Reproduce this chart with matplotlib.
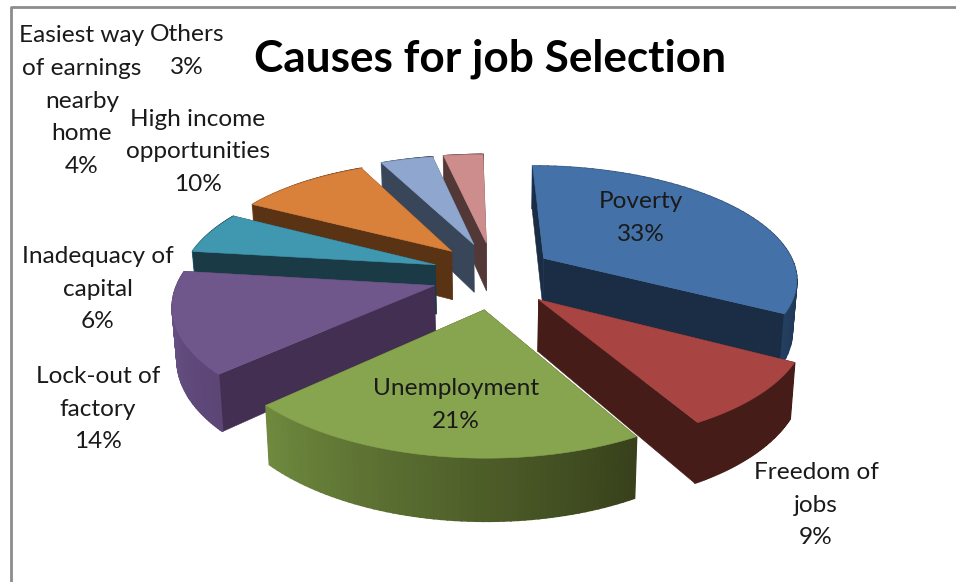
import matplotlib
matplotlib.use("Agg")

import matplotlib.pyplot as plt
import numpy as np
from matplotlib.patches import Polygon

plt.rcParams["font.family"] = ["Lato", "DejaVu Sans"]

categories = [
    "Poverty",
    "Freedom of\njobs",
    "Unemployment",
    "Lock-out of\nfactory",
    "Inadequacy of\ncapital",
    "High income\nopportunities",
    "Easiest way\nof earnings\nnearby\nhome",
    "Others",
]
values = [33, 9, 21, 14, 6, 10, 4, 3]

top_colors = ["#4371a8", "#a84442", "#87a44e", "#6f578c", "#4098b0", "#d9813b", "#8fa7cf", "#cd8d8d"]
side_colors = ["#1a2d45", "#451c18", "#3a431c", "#432f52", "#1a3a46", "#5a3315", "#39465a", "#533838"]
rim_left = ["#33577f", "#451c18", "#708b3f", "#6a5288", "#2f7488", "#a8622c", "#6c80a0", "#9c6b6b"]
rim_right = ["#1f3654", "#451c18", "#38411b", "#5c4676", "#1a3a46", "#5a3315", "#39465a", "#533838"]

label_xy = [
    (641, 218), (816, 505), (456, 405), (98, 409),
    (98, 289), (198, 152), (82, 101), (187, 51),
]

# back slices first so the nearer ones overlap them
draw_order = [7, 6, 5, 4, 3, 0, 1, 2]

# projection of the pie plane onto the canvas
CX, CY = 493, 275
SCALE_X, SCALE_Y = 254, 112
PERSP = 0.16
SHEAR = 4
EXPLODE_X, EXPLODE_Y = 0.24, 0.30
DEPTH = 50


def project(x, y, drop=0.0):
    w = 1 - PERSP * y
    sx = CX + SCALE_X * x / w
    sy = CY + SCALE_Y * y / w
    if drop:
        sx = CX + (sx - CX) * 0.985
        sy = sy + drop / w
    return sx + SHEAR * y, sy


def slice_outline(theta0, theta1, mid, n=60):
    # angles run clockwise from twelve o'clock, y points towards the viewer
    ox = EXPLODE_X * np.sin(mid)
    oy = -EXPLODE_Y * np.cos(mid)
    t = np.linspace(theta0, theta1, n)
    return ox, oy, ox + np.sin(t), oy - np.cos(t)


def mix(c0, c1, f):
    a = np.array(matplotlib.colors.to_rgb(c0))
    b = np.array(matplotlib.colors.to_rgb(c1))
    return tuple(a + (b - a) * f)


def draw_slice(ax, i, theta0, theta1):
    mid = (theta0 + theta1) / 2
    ox, oy, xs, ys = slice_outline(theta0, theta1, mid)

    walls = []
    for x_end, y_end in [(xs[0], ys[0]), (xs[-1], ys[-1])]:
        a_top = project(ox, oy)
        b_top = project(x_end, y_end)
        b_low = project(x_end, y_end, DEPTH)
        a_low = project(ox, oy, DEPTH)
        walls.append(((oy + y_end) / 2, [a_top, b_top, b_low, a_low], side_colors[i], 0.4))

    # outer rim is split into short quads so it can carry a shading ramp
    px, py = project(xs, ys)
    qx, qy = project(xs, ys, DEPTH)
    left_to_right = np.argsort(px)
    rank = np.empty(len(px))
    rank[left_to_right] = np.linspace(0, 1, len(px))
    for k in range(len(xs) - 1):
        quad = [(px[k], py[k]), (px[k + 1], py[k + 1]), (qx[k + 1], qy[k + 1]), (qx[k], qy[k])]
        walls.append(((ys[k] + ys[k + 1]) / 2, quad, mix(rim_left[i], rim_right[i], rank[k]), 1.2))

    for _, pts, color, lw in sorted(walls, key=lambda w: w[0]):
        ax.add_patch(Polygon(pts, closed=True, facecolor=color, edgecolor=color, linewidth=lw))

    face = [project(ox, oy)] + list(zip(px, py))
    ax.add_patch(Polygon(face, closed=True, facecolor=top_colors[i], edgecolor=top_colors[i], linewidth=0.4))


fig = plt.figure(figsize=(9.56, 5.82), dpi=100)
ax = fig.add_axes([0, 0, 1, 1])
ax.set_xlim(0, 956)
ax.set_ylim(582, 0)
ax.axis("off")

# chart frame
ax.plot([11, 11, 956], [582, 7, 7], color="#8c8c8c", linewidth=2, solid_capstyle="butt")

edges = np.cumsum([0] + values) / sum(values) * 2 * np.pi
for i in draw_order:
    draw_slice(ax, i, edges[i], edges[i + 1])

ax.text(490, 59, "Causes for job Selection", fontsize=31.8, fontweight="bold",
        color="black", ha="center", va="center")

for name, val, (x, y) in zip(categories, values, label_xy):
    ax.text(x, y, f"{name}\n{val}%", fontsize=17.6, color="#1a1a1a", ha="center", va="center",
            linespacing=1.68)

fig.savefig("out.png", dpi=100)
plt.close(fig)
